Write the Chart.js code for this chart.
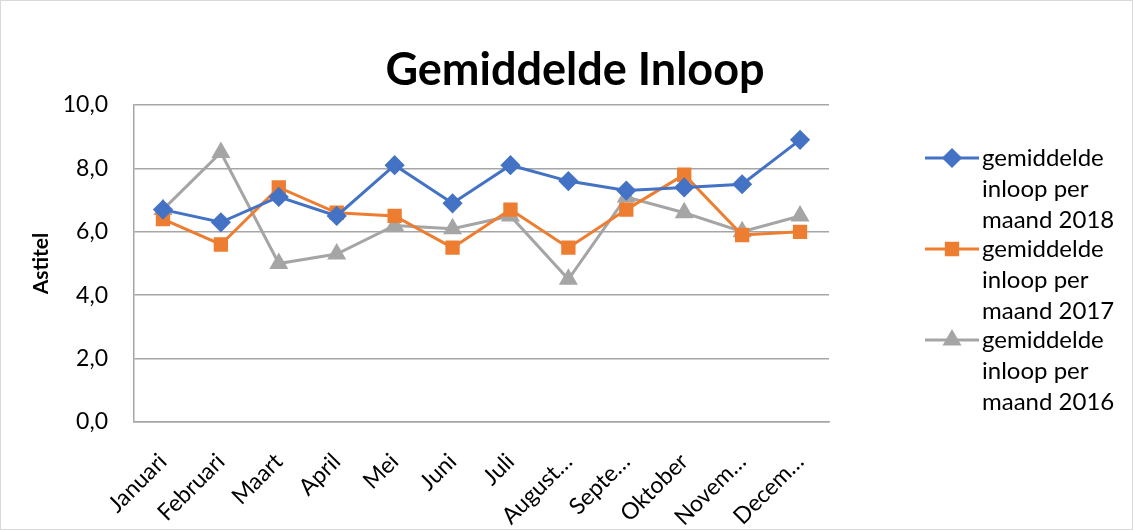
<!DOCTYPE html>
<html>
<head>
<meta charset="utf-8">
<script src="https://cdn.jsdelivr.net/npm/chart.js@4/dist/chart.umd.min.js"></script>
<style>
  html, body { margin: 0; padding: 0; background: #fff; }
  #wrap { width: 1133px; height: 530px; position: relative; }
</style>
</head>
<body>
<div id="wrap"><canvas id="inloopChart" width="1133" height="530"></canvas></div>
<script>
const maanden = ['Januari', 'Februari', 'Maart', 'April', 'Mei', 'Juni', 'Juli',
    'Augustus', 'September', 'Oktober', 'November', 'December'];
const tickLabels = ['Januari', 'Februari', 'Maart', 'April', 'Mei', 'Juni', 'Juli',
    'August…', 'Septe…', 'Oktober', 'Novem…', 'Decem…'];
const inloop2018 = [6.7, 6.3, 7.1, 6.5, 8.1, 6.9, 8.1, 7.6, 7.3, 7.4, 7.5, 8.9];
const inloop2017 = [6.4, 5.6, 7.4, 6.6, 6.5, 5.5, 6.7, 5.5, 6.7, 7.8, 5.9, 6.0];
const inloop2016 = [6.7, 8.5, 5.0, 5.3, 6.2, 6.1, 6.5, 4.5, 7.1, 6.6, 6.0, 6.5];
const legendLines = [
    ['gemiddelde', 'inloop per', 'maand 2018'],
    ['gemiddelde', 'inloop per', 'maand 2017'],
    ['gemiddelde', 'inloop per', 'maand 2016']
];
const chartTitle = 'Gemiddelde Inloop';

const fontFam = 'Lato, "Open Sans", sans-serif';

// title + legend with wrapped text, drawn by hand so they sit where Excel put them
const extras = {
    id: 'extras',
    beforeDraw(chart) {
        const ctx = chart.ctx;
        ctx.save();
        ctx.strokeStyle = '#d9d9d9';
        ctx.lineWidth = 1;
        ctx.strokeRect(0.5, 0.5, chart.width - 1, chart.height - 1);
        ctx.restore();
    },
    afterDraw(chart) {
        const ctx = chart.ctx;
        ctx.save();
        ctx.fillStyle = '#000';
        ctx.font = 'bold 45px ' + fontFam;
        ctx.textAlign = 'center';
        ctx.textBaseline = 'alphabetic';
        ctx.fillText(chartTitle, 575, 85);

        chart.data.datasets.forEach(function (ds, i) {
            const y = 158 + i * 91;
            ctx.strokeStyle = ds.borderColor;
            ctx.lineWidth = 3;
            ctx.beginPath();
            ctx.moveTo(925, y);
            ctx.lineTo(979, y);
            ctx.stroke();
            ctx.fillStyle = ds.borderColor;
            Chart.helpers.drawPoint(ctx, {
                pointStyle: ds.pointStyle,
                radius: ds.pointRadius,
                borderWidth: 1
            }, 952, y);
            ctx.fillStyle = '#000';
            ctx.font = '24px ' + fontFam;
            ctx.textBaseline = 'middle';
            ctx.textAlign = 'left';
            legendLines[i].forEach(function (t, j) {
                ctx.fillText(t, 982, y + j * 31);
            });
        });
        ctx.restore();
    }
};

new Chart(document.getElementById('inloopChart').getContext('2d'), {
    type: 'line',
    data: {
        labels: maanden,
        datasets: [{
            label: 'gemiddelde inloop per maand 2018',
            data: inloop2018,
            borderColor: '#4472c4',
            backgroundColor: '#4472c4',
            pointStyle: 'rectRot',
            pointRadius: 8,
            borderWidth: 3
        }, {
            label: 'gemiddelde inloop per maand 2017',
            data: inloop2017,
            borderColor: '#ed7d31',
            backgroundColor: '#ed7d31',
            pointStyle: 'rect',
            pointRadius: 8,
            borderWidth: 3
        }, {
            label: 'gemiddelde inloop per maand 2016',
            data: inloop2016,
            borderColor: '#a5a5a5',
            backgroundColor: '#a5a5a5',
            pointStyle: 'triangle',
            pointRadius: 8,
            borderWidth: 3
        }]
    },
    options: {
        responsive: false,
        animation: false,
        layout: { padding: { left: 29, right: 304, top: 105, bottom: 0 } },
        plugins: {
            legend: { display: false },
            tooltip: { enabled: false },
            title: { display: false }
        },
        scales: {
            x: {
                offset: true,
                afterFit: function (scale) { scale.height = 108; },
                grid: { display: false, drawTicks: false },
                border: { display: true, color: '#a6a6a6', width: 1.5 },
                ticks: {
                    autoSkip: false,
                    maxRotation: 45,
                    minRotation: 45,
                    padding: 26,
                    color: '#000',
                    font: { family: fontFam, size: 23 },
                    callback: function (value, index) {
                        return tickLabels[index];
                    }
                }
            },
            y: {
                min: 0,
                max: 10,
                afterFit: function (scale) { scale.width = 105; },
                grid: { color: '#a6a6a6', lineWidth: 1.5, drawTicks: false },
                border: { display: true, color: '#a6a6a6', width: 1.5 },
                ticks: {
                    stepSize: 2,
                    padding: 26,
                    color: '#000',
                    font: { family: fontFam, size: 23 },
                    callback: function (value) {
                        return value.toFixed(1).replace('.', ',');
                    }
                },
                title: {
                    display: true,
                    text: 'Astitel',
                    color: '#000',
                    font: { family: fontFam, size: 21, weight: 'bold' },
                    padding: 0
                }
            }
        }
    },
    plugins: [extras]
});
</script>
</body>
</html>
